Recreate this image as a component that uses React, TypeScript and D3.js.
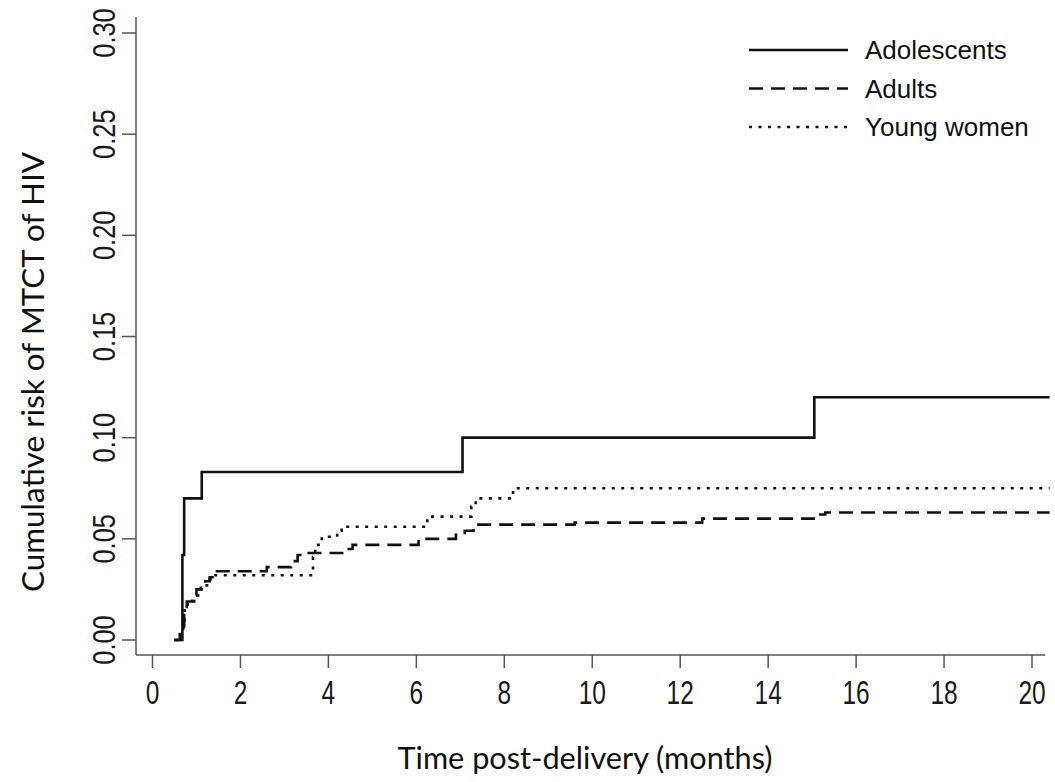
import * as d3 from 'd3';
import { useEffect, useRef } from 'react';

// step data: [months, cumulative risk]
const adolescents: [number, number][] = [
  [0.5, 0], [0.68, 0.042], [0.72, 0.07], [1.12, 0.083], [7.05, 0.1], [15.05, 0.12], [20.4, 0.12],
];
const adults: [number, number][] = [
  [0.5, 0], [0.62, 0.003], [0.7, 0.006], [0.72, 0.015], [0.78, 0.019], [0.9, 0.022],
  [1.0, 0.025], [1.1, 0.027], [1.2, 0.029], [1.3, 0.031], [1.4, 0.034], [2.6, 0.036],
  [3.15, 0.039], [3.3, 0.042], [3.45, 0.043], [4.4, 0.045], [4.55, 0.047], [6.05, 0.05],
  [6.9, 0.052], [7.1, 0.054], [7.3, 0.057], [9.6, 0.058], [12.5, 0.06], [15.1, 0.062],
  [15.3, 0.063], [20.4, 0.063],
];
const youngWomen: [number, number][] = [
  [0.5, 0], [0.6, 0.002], [0.7, 0.008], [0.73, 0.016], [0.8, 0.019], [0.95, 0.022],
  [1.1, 0.025], [1.2, 0.027], [1.3, 0.03], [1.4, 0.032], [3.65, 0.041], [3.7, 0.047],
  [3.85, 0.051], [4.2, 0.054], [4.3, 0.056], [6.25, 0.061], [7.25, 0.066], [7.35, 0.07],
  [8.2, 0.075], [20.4, 0.075],
];

const xTicks = [0, 2, 4, 6, 8, 10, 12, 14, 16, 18, 20];
const yTicks = [0, 0.05, 0.1, 0.15, 0.2, 0.25, 0.3];
const legendLabels = ['Adolescents', 'Adults', 'Young women'];
const dashes = [null, '14,8', '3,6.5'];

export default function App() {
  const ref = useRef<SVGSVGElement>(null);

  useEffect(() => {
    const svg = d3.select(ref.current);
    svg.selectAll('*').remove();

    const x = d3.scaleLinear().domain([0, 20]).range([152.5, 1032]);
    const y = d3.scaleLinear().domain([0, 0.3]).range([640, 33]);
    const axisColor = '#555';
    const tickFont = "'Liberation Sans', Arial, sans-serif";

    // axes (L-shaped box)
    svg.append('line').attr('x1', 136).attr('x2', 136).attr('y1', 17).attr('y2', 655)
      .attr('stroke', axisColor).attr('stroke-width', 1.5);
    svg.append('line').attr('x1', 136).attr('x2', 1045).attr('y1', 655).attr('y2', 655)
      .attr('stroke', axisColor).attr('stroke-width', 1.5);

    // x ticks
    const xt = svg.append('g').selectAll('g').data(xTicks).enter().append('g')
      .attr('transform', d => `translate(${x(d)},0)`);
    xt.append('line').attr('y1', 655).attr('y2', 668).attr('stroke', axisColor).attr('stroke-width', 1.5);
    xt.append('text')
      .attr('transform', 'translate(0,704) scale(0.72,1)')
      .attr('text-anchor', 'middle')
      .style('font-family', tickFont).style('font-size', '34px').attr('fill', '#1a1a1a')
      .text(d => String(d));

    // y ticks
    const yt = svg.append('g').selectAll('g').data(yTicks).enter().append('g')
      .attr('transform', d => `translate(0,${y(d)})`);
    yt.append('line').attr('x1', 122).attr('x2', 136).attr('stroke', axisColor).attr('stroke-width', 1.5);
    yt.append('text')
      .attr('transform', 'translate(115,0) rotate(-90) scale(0.82,1)')
      .attr('text-anchor', 'middle')
      .style('font-family', tickFont).style('font-size', '31px').attr('fill', '#1a1a1a')
      .text(d => d.toFixed(2));

    // curves
    const line = d3.line<[number, number]>()
      .x(d => x(d[0])).y(d => y(d[1]))
      .curve(d3.curveStepAfter);

    [adolescents, adults, youngWomen].forEach((s, i) => {
      svg.append('path').datum(s).attr('d', line)
        .attr('fill', 'none').attr('stroke', '#111').attr('stroke-width', 2.6)
        .attr('stroke-dasharray', dashes[i]);
    });

    // legend
    const lg = svg.append('g').selectAll('g').data(legendLabels).enter().append('g')
      .attr('transform', (d, i) => `translate(0,${50 + i * 38.5})`);
    lg.append('line').attr('x1', 749).attr('x2', 848)
      .attr('stroke', '#111').attr('stroke-width', 2.6)
      .attr('stroke-dasharray', (d, i) => dashes[i]);
    lg.append('text').attr('x', 865).attr('y', 9)
      .style('font-family', tickFont).style('font-size', '26px').attr('fill', '#111')
      .text(d => d);

    // axis titles
    svg.append('text').attr('x', 585).attr('y', 769).attr('text-anchor', 'middle')
      .attr('textLength', 375).attr('lengthAdjust', 'spacingAndGlyphs')
      .style('font-family', 'Lato, sans-serif').style('font-size', '31px').attr('fill', '#111')
      .text('Time post-delivery (months)');
    svg.append('text').attr('transform', 'translate(44,372) rotate(-90)').attr('text-anchor', 'middle')
      .attr('textLength', 440).attr('lengthAdjust', 'spacingAndGlyphs')
      .style('font-family', 'Lato, sans-serif').style('font-size', '31px').attr('fill', '#111')
      .text('Cumulative risk of MTCT of HIV');
  }, []);

  return (
    <svg ref={ref} width={1055} height={782}
      style={{ position: 'absolute', left: 0, top: 0, background: '#fff' }} />
  );
}
